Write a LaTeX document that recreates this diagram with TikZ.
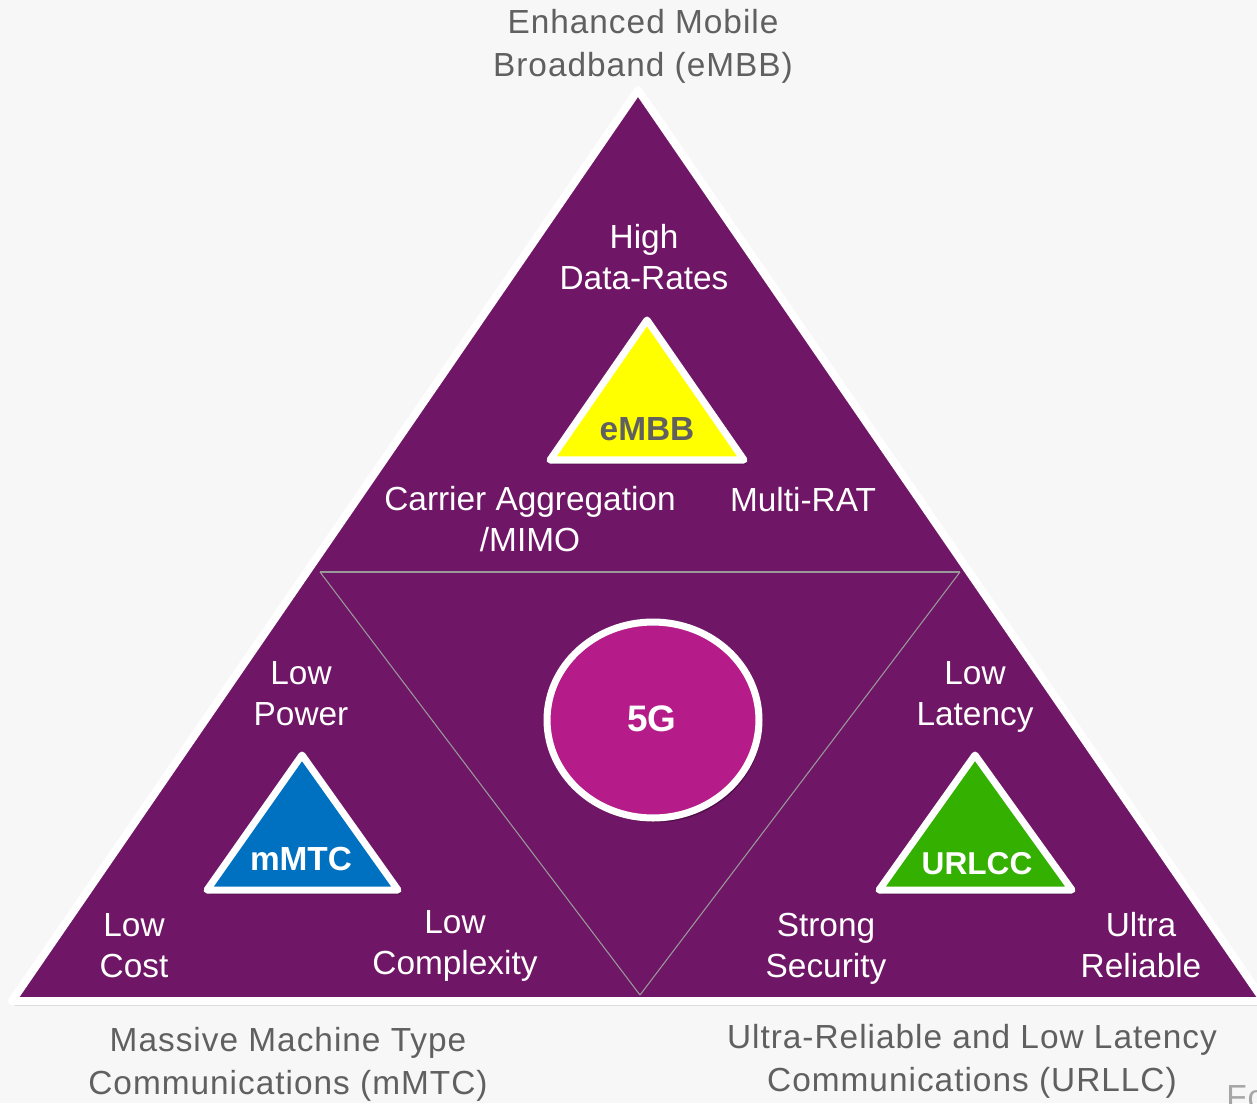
\documentclass[tikz,border=0pt]{standalone}
\usepackage{fontspec}
\setmainfont{Liberation Sans}
\usetikzlibrary{shadows,shapes.geometric}
\definecolor{fgpurple}{RGB}{112,22,102}
\definecolor{fgmagenta}{RGB}{181,27,137}
\definecolor{fggray}{RGB}{96,96,96}
\definecolor{fgback}{RGB}{247,247,247}
\definecolor{fgblue}{RGB}{0,112,192}
\definecolor{fggreen}{RGB}{51,176,0}
\definecolor{fgyellow}{RGB}{255,255,0}
\begin{document}
\begin{tikzpicture}[x=0.02cm, y=-0.02cm,
    every node/.style={font=\fontsize{19}{23.5}\selectfont, inner sep=0pt},
    outer/.style={text=fggray, font=\fontsize{19}{24.5}\selectfont\addfontfeature{LetterSpace=3}},
    inner/.style={text=white},
    tag/.style={font=\fontsize{19}{23.5}\selectfont\bfseries},
    shade/.style={drop shadow={shadow xshift=1.5pt, shadow yshift=-2.5pt, opacity=0.3, fill=black}},
    tri/.style={draw=white, line width=4pt, line join=round, shade}]{
    \useasboundingbox [fill=fgback] (0,0) rectangle (1257,1103);

    % big triangle
    \coordinate (A) at (638,90);
    \coordinate (B) at (12,1001);
    \coordinate (C) at (1264,1001);
    \draw [tri, fill=fgpurple, line width=4.5pt] (A) -- (B) -- (C) -- cycle;

    % inner triangle
    \coordinate (P) at (320,572);
    \coordinate (Q) at (960,572);
    \coordinate (R) at (640,995);
    \path [draw=gray!80, line width=0.6pt] (P) edge (Q);
    \path [draw=gray!80, line width=0.6pt] (Q) edge (R);
    \path [draw=gray!80, line width=0.6pt] (R) edge (P);

    % small triangles
    \draw [tri, fill=fgyellow] (647,320) -- (550,460) -- (744,460) -- cycle;
    \draw [tri, fill=fgblue] (302,755) -- (207,890) -- (398,890) -- cycle;
    \draw [tri, fill=fggreen] (975,755) -- (879,890) -- (1072,890) -- cycle;

    % 5G circle
    \node [ellipse, draw=white, line width=4pt, fill=fgmagenta, shade,
        minimum width=4.24cm, minimum height=3.92cm] (core) at (653,720) {};
    \node [inner, tag, font=\fontsize{21}{24}\selectfont\bfseries] (fiveG) at (652,719) {5G};

    \node [outer, tag, text=fggray] (embb) at (647,429) {eMBB};
    \node [inner, tag] (mmtc) at (301,859) {mMTC};
    \node [inner, tag, font=\fontsize{18}{22}\selectfont\bfseries] (urllc) at (977,864) {URLCC};

    % labels
    \node [outer] (embbT) at (643,46) {\begin{tabular}{c}Enhanced Mobile\\Broadband (eMBB)\end{tabular}};
    \node [inner] (rate) at (644,261) {\begin{tabular}{c}High\\Data-Rates\end{tabular}};
    \node [inner] (carr) at (530,523) {\begin{tabular}{c}Carrier Aggregation\\/MIMO\end{tabular}};
    \node [inner] (mrat) at (803,500) {Multi-RAT};
    \node [inner] (lpow) at (301,697) {\begin{tabular}{c}Low\\Power\end{tabular}};
    \node [inner] (lcost) at (134,949) {\begin{tabular}{c}Low\\Cost\end{tabular}};
    \node [inner] (lcpx) at (455,946) {\begin{tabular}{c}Low\\Complexity\end{tabular}};
    \node [inner] (llat) at (975,697) {\begin{tabular}{c}Low\\Latency\end{tabular}};
    \node [inner] (sec) at (826,949) {\begin{tabular}{c}Strong\\Security\end{tabular}};
    \node [inner] (rel) at (1141,949) {\begin{tabular}{c}Ultra\\Reliable\end{tabular}};
    \node [outer] (mmtcT) at (288,1064) {\begin{tabular}{c}Massive Machine Type\\Communications (mMTC)\end{tabular}};
    \node [outer] (urllcT) at (972,1061) {\begin{tabular}{c}Ultra-Reliable and Low Latency\\Communications (URLLC)\end{tabular}};
    \node [outer, text=gray!70, anchor=west] (fo) at (1226,1097) {Fo};
    }
\end{tikzpicture}
\end{document}
